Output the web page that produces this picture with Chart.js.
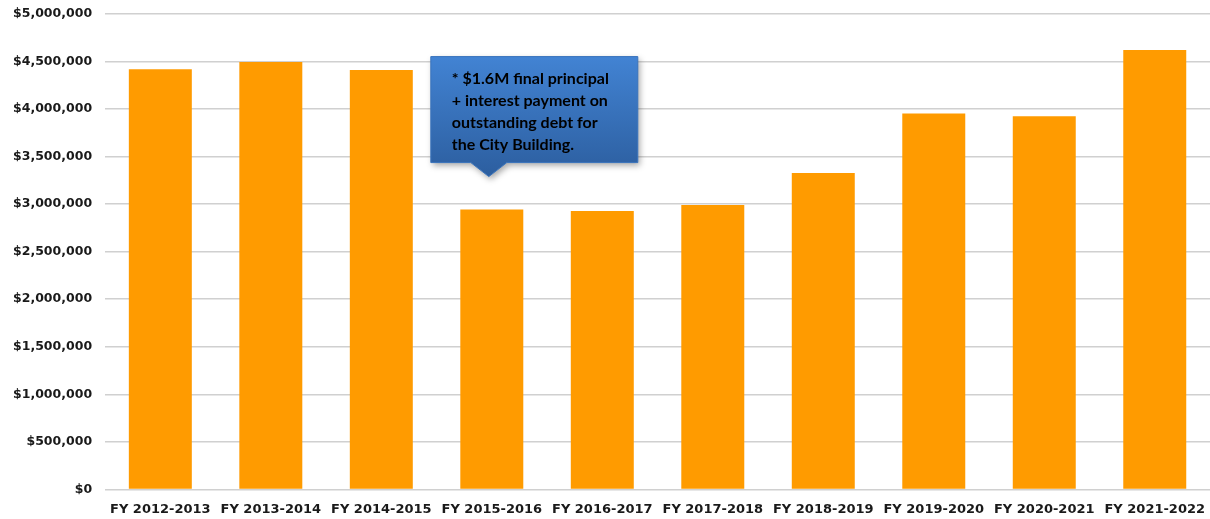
<!DOCTYPE html>
<html>
<head>
<meta charset="utf-8">
<script src="https://cdn.jsdelivr.net/npm/chart.js@4/dist/chart.umd.min.js"></script>
<style>
  html, body { margin: 0; padding: 0; background: #fff; }
  #wrap { width: 1210px; height: 519px; }
</style>
</head>
<body>
<div id="wrap"><canvas id="chart"></canvas></div>
<script>
// data
const years = ['FY 2012-2013', 'FY 2013-2014', 'FY 2014-2015', 'FY 2015-2016', 'FY 2016-2017',
               'FY 2017-2018', 'FY 2018-2019', 'FY 2019-2020', 'FY 2020-2021', 'FY 2021-2022'];
const amounts = [4418000, 4495000, 4410000, 2945000, 2927000, 2990000, 3328000, 3954000, 3925000, 4621000];
const yTicks = [0, 500000, 1000000, 1500000, 2000000, 2500000, 3000000, 3500000, 4000000, 4500000, 5000000];
const noteLines = ['* $1.6M final principal', '+ interest payment on', 'outstanding debt for', 'the City Building.'];
const noteIndex = 3;          // bar the callout points at
const noteTipValue = 3290000; // height of the callout's tip

// callout box drawn on top of the chart
const calloutPlugin = {
    id: 'callout',
    afterDraw(chart) {
        const ctx = chart.ctx;
        const tipX = chart.scales.x.getPixelForValue(noteIndex) - 3;
        const tipY = chart.scales.y.getPixelForValue(noteTipValue);
        const w = 207, h = 106;
        const left = tipX - 58, bottom = tipY - 14, top = bottom - h;

        ctx.save();
        ctx.shadowColor = 'rgba(0,0,0,0.35)';
        ctx.shadowBlur = 6;
        ctx.shadowOffsetX = 2;
        ctx.shadowOffsetY = 3;
        const grad = ctx.createLinearGradient(0, top, 0, tipY);
        grad.addColorStop(0, '#4283d3');
        grad.addColorStop(1, '#2c5e9f');
        ctx.fillStyle = grad;
        ctx.beginPath();
        ctx.moveTo(left, top);
        ctx.lineTo(left + w, top);
        ctx.lineTo(left + w, bottom);
        ctx.lineTo(tipX + 18, bottom);
        ctx.lineTo(tipX, tipY);
        ctx.lineTo(tipX - 18, bottom);
        ctx.lineTo(left, bottom);
        ctx.closePath();
        ctx.fill();
        ctx.shadowColor = 'transparent';
        ctx.strokeStyle = '#3a74bd';
        ctx.lineWidth = 1;
        ctx.stroke();

        ctx.fillStyle = '#000';
        ctx.font = 'bold 16px Lato';
        ctx.textBaseline = 'middle';
        noteLines.forEach((line, i) => {
            ctx.fillText(line, left + 21, top + 22 + i * 22);
        });
        ctx.restore();
    }
};

new Chart(document.getElementById('chart'), {
    type: 'bar',
    data: {
        labels: years,
        datasets: [{
            data: amounts,
            backgroundColor: '#ff9b00',
            borderWidth: 0,
            categoryPercentage: 1,
            barPercentage: 0.57
        }]
    },
    options: {
        responsive: true,
        maintainAspectRatio: false,
        animation: false,
        layout: { padding: { top: 14, right: 0, bottom: -2, left: 0 } },
        plugins: { legend: { display: false }, tooltip: { enabled: false } },
        scales: {
            x: {
                grid: { display: false },
                border: { display: false },
                ticks: {
                    color: '#1a1a1a',
                    font: { family: 'DejaVu Sans', weight: 'bold', size: 13 },
                    maxRotation: 0,
                    autoSkip: false,
                    padding: 4
                }
            },
            y: {
                min: 0,
                max: 5000000,
                afterBuildTicks: axis => { axis.ticks = yTicks.map(v => ({ value: v })); },
                afterFit: axis => { axis.paddingTop = 0; },
                grid: { color: '#d0d0d0', lineWidth: 1.5, drawTicks: false },
                border: { display: false },
                ticks: {
                    color: '#1a1a1a',
                    padding: 13,
                    font: { family: 'DejaVu Sans', weight: 'bold', size: 12.5 },
                    callback: v => '$' + v.toLocaleString('en-US')
                }
            }
        }
    },
    plugins: [calloutPlugin]
});
</script>
</body>
</html>
